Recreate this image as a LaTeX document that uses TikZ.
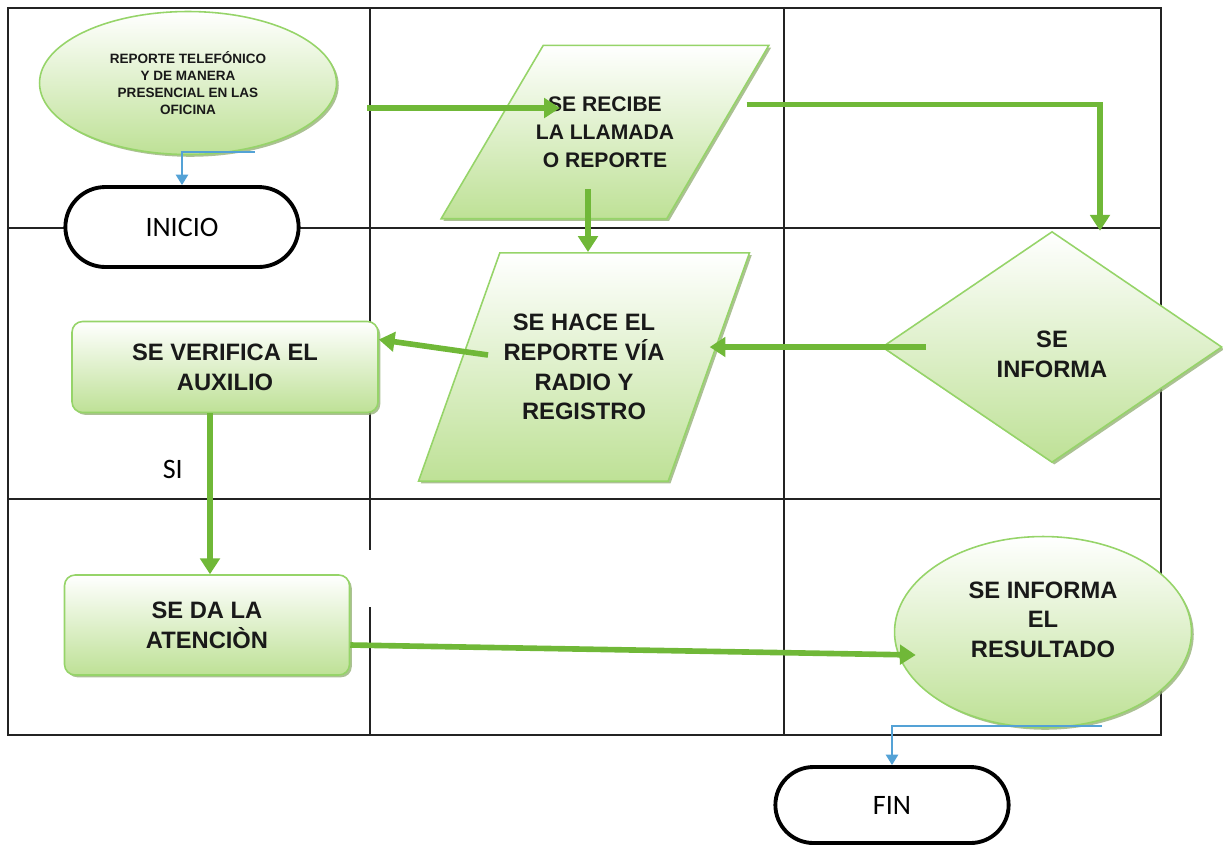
\documentclass[tikz,border=0pt]{standalone}
\usepackage{fontspec}
\setmainfont{Liberation Sans}
\newfontfamily\carlito{Carlito}
\usepackage{tikz}
\usetikzlibrary{arrows.meta, positioning, shapes.geometric, shapes.misc, shadows}
\usepackage{xcolor}
\definecolor{leafgreen}{RGB}{112,184,56}
\definecolor{paleedge}{RGB}{150,212,105}
\definecolor{palefill}{RGB}{190,225,150}
\definecolor{shadowgreen}{RGB}{150,178,120}
\definecolor{skyblue}{RGB}{84,162,214}
\definecolor{lanegray}{RGB}{35,35,35}
\newcommand{\flowfont}{\fontsize{13.5}{17}\selectfont\bfseries}
\newcommand{\flowfontmid}{\fontsize{12}{15.9}\selectfont\bfseries}
\newcommand{\flowfonttiny}{\fontsize{7.7}{9.6}\selectfont\bfseries}
\tikzset{%
	green shape/.style={
		draw=paleedge,
		line width=0.9pt,
		top color=white,
		bottom color=palefill,
		drop shadow={shadow xshift=1.3pt, shadow yshift=-1.3pt, fill=shadowgreen, opacity=0.8},
		align=center,
		text=black!90,
		font=\flowfont
	},
	green box/.style={
		green shape,
		rectangle,
		rounded corners=6pt
	},
	green ellipse/.style={
		green shape,
		ellipse,
		minimum width=5.94cm
	},
	data box/.style={
		green shape,
		trapezium,
		trapezium left angle=#1,
		trapezium right angle=180-#1,
		trapezium stretches body
	},
	terminal/.style={
		rounded rectangle,
		draw=black,
		line width=2.2pt,
		fill=white,
		minimum width=4.9cm,
		minimum height=1.6cm,
		font=\carlito\fontsize{16}{19}\selectfont
	},
	flow line/.style={
		draw=leafgreen,
		line width=3.2pt,
		-{Triangle[width=11pt,length=9pt]}
	},
	blue line/.style={
		draw=skyblue,
		line width=1.2pt,
		-{Triangle[width=7pt,length=6pt]}
	},
	lane line/.style={
		draw=lanegray,
		line width=0.8pt
	}
}
\begin{document}
\begin{tikzpicture}[x=0.02cm, y=-0.02cm]
	\useasboundingbox (0,0) rectangle (1223,846);
	% lanes
	\draw[lane line] (8,8) rectangle (1161,735);
	\draw[lane line] (370,8) -- (370,550) (370,607) -- (370,735);
	\draw[lane line] (784,8) -- (784,735);
	\draw[lane line] (8,228) -- (1161,228);
	\draw[lane line] (8,499) -- (1161,499);
	
	% shapes
	\node[green ellipse, minimum height=2.86cm, font=\flowfonttiny] (rep) at (188,83)
		{REPORTE TELEFÓNICO\\Y DE MANERA\\PRESENCIAL EN LAS\\OFICINA};
	\node[terminal] (ini) at (182,227) {INICIO};
	\node[data box=59.5, inner xsep=-4.2pt, inner ysep=29.2pt, font=\flowfontmid] (rec) at (605,132)
		{SE RECIBE\\LA LLAMADA\\O REPORTE};
	\node[data box=70.4, inner xsep=2.15pt, inner ysep=34.7pt] (rad) at (584,367)
		{SE HACE EL\\REPORTE VÍA\\RADIO Y\\REGISTRO};
	\node[green shape, diamond, minimum width=6.8cm, minimum height=4.62cm, text height=35pt] (inf) at (1052,347)
		{SE\\INFORMA};
	\node[green box, minimum width=6.12cm, minimum height=1.82cm] (ver) at (225,367)
		{SE VERIFICA EL\\AUXILIO};
	\node[green box, minimum width=5.7cm, minimum height=2cm] (ate) at (207,625)
		{SE DA LA\\ATENCIÒN};
	\node[green ellipse, minimum height=3.82cm, text depth=14pt] (res) at (1043,632)
		{SE INFORMA\\EL\\RESULTADO};
	\node[terminal, minimum height=1.52cm] (fin) at (892,805) {FIN};
	
	% connectors
	\coordinate (callin) at (367,108);
	\coordinate (recdown) at ([xshift=-0.34cm,yshift=-1.15cm]rec.center);
	\coordinate (radout) at ([xshift=-1.92cm,yshift=0.24cm]rad.center);
	\coordinate (verdown) at ([xshift=-0.3cm]ver.south);
	\draw[blue line] ([xshift=1.34cm,yshift=0.07cm]rep.south) -| (ini.north);
	\draw[flow line] (callin) -- ([xshift=-0.9cm,yshift=0.48cm]rec.center);
	\draw[flow line] ([xshift=0.56cm,yshift=0.55cm]rec.east) -| ([xshift=0.96cm]inf.north);
	\draw[flow line] (recdown) -- (recdown |- rad.north);
	\draw[flow line] ([xshift=0.9cm]inf.west) -- (rad.east |- inf.west);
	\draw[flow line] (radout) -- ([yshift=0.55cm]ver.east);
	\draw[flow line] (verdown) -- (verdown |- ate.north)
		node[pos=0.35, left=0.37cm, font=\carlito\fontsize{16}{19}\selectfont] (si) {SI};
	\draw[flow line] ([yshift=-0.4cm]ate.east) -- ([xshift=0.44cm,yshift=-0.46cm]res.west);
	\draw[blue line] ([xshift=1.18cm,yshift=0.05cm]res.south) -| (fin.north);
\end{tikzpicture}
\end{document}
